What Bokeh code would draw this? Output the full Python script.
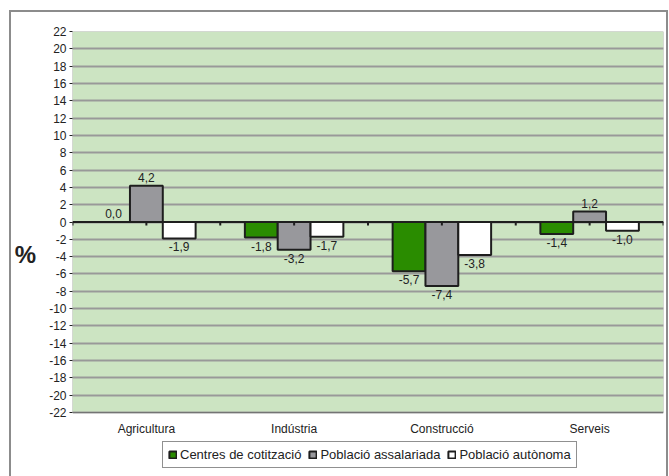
from bokeh.plotting import figure
from bokeh.models import (ColumnDataSource, Range1d, FixedTicker, Legend, LegendItem,
                          BoxAnnotation)
from bokeh.embed import file_html
from bokeh.resources import INLINE
from bokeh.core.properties import value

categories = ["Agricultura", "Indústria", "Construcció", "Serveis"]
series_names = ["Centres de cotització", "Població assalariada", "Població autònoma"]
centres = [0.0, -1.8, -5.7, -1.4]
assalariada = [4.2, -3.2, -7.4, 1.2]
autonoma = [-1.9, -1.7, -3.8, -1.0]
y_ticks = list(range(-22, 23, 2))

series_values = [centres, assalariada, autonoma]
colors = ["#2a8c00", "#98989c", "#ffffff"]
FONT = "Liberation Sans"

n = len(categories)
bar_w = 1 / 4.5
y_min, y_max = y_ticks[0], y_ticks[-1]

# plot area: 381 px tall for the value range, plus 64 px of white space below it
W, H = 669, 476
top_b, left_b, right_b = 31, 72, 6
area_px = 381
extra_units = (H - top_b - area_px) * (y_max - y_min) / area_px

p = figure(width=W, height=H, output_backend="svg", toolbar_location=None,
           x_range=Range1d(0, n), y_range=Range1d(y_min - extra_units, y_max),
           x_axis_location=None,
           min_border_left=left_b, min_border_right=right_b, min_border_top=top_b,
           min_border_bottom=0,
           background_fill_color="#ffffff", border_fill_color=None)
p.outline_line_color = None

g = "linear-gradient(#8c8c8c,#8c8c8c)"
p.styles = {
    "background": (f"{g} 9px 10px / 2px 100% no-repeat, "
                   f"{g} 9px 10px / 659px 2px no-repeat, "
                   f"{g} 666px 10px / 2px 100% no-repeat, #ffffff"),
}

# green plot area
p.add_layout(BoxAnnotation(left=0, right=n, bottom=y_min, top=y_max,
                           fill_color="#cce4c2", fill_alpha=1, line_color=None,
                           level="image"))

# grid
p.xgrid.grid_line_color = None
p.ygrid.ticker = FixedTicker(ticks=y_ticks)
p.ygrid.grid_line_color = "#999999"
p.ygrid.grid_line_width = 2

# y axis
p.yaxis.ticker = FixedTicker(ticks=y_ticks)
p.yaxis.major_label_overrides = {t: str(t) for t in y_ticks}
p.yaxis.axis_line_color = None
p.yaxis.major_tick_line_color = "#222222"
p.yaxis.major_tick_out = 3
p.yaxis.major_tick_in = 0
p.yaxis.minor_tick_line_color = None
p.yaxis.minor_tick_out = 0
p.yaxis.major_label_standoff = 3
p.yaxis.major_label_text_font = FONT
p.yaxis.major_label_text_font_size = "12px"
p.yaxis.major_label_text_color = "#222222"
p.yaxis.axis_label = "%"
p.yaxis.axis_label_text_font = FONT
p.yaxis.axis_label_text_font_size = "24px"
p.yaxis.axis_label_text_font_style = "bold"
p.yaxis.axis_label_text_color = "#222222"
p.yaxis.axis_label_standoff = 10
if "axis_label_orientation" in p.yaxis[0].properties():
    p.yaxis.axis_label_orientation = "horizontal"

# bars
centers = [i + 0.5 for i in range(n)]
offsets = [-1, 0, 1]
legend_items = []
for vals, col, off, name in zip(series_values, colors, offsets, series_names):
    xs = [c + off * bar_w for c in centers]
    src = ColumnDataSource(dict(
        x=xs, top=vals,
        label=[f"{v:.1f}".replace(".", ",") for v in vals],
        yoff=[-4 if v >= 0 else 4 for v in vals],
        base=["bottom" if v >= 0 else "top" for v in vals],
    ))
    r = p.vbar(x="x", top="top", bottom=0, width=bar_w, source=src,
               fill_color=col, line_color="#1e1e1e", line_width=2)
    p.text(x="x", y="top", text="label", source=src, y_offset="yoff",
           text_baseline="base", text_align="center",
           text_font=value(FONT), text_font_size="12px", text_color="#222222")
    legend_items.append(LegendItem(label=name, renderers=[r]))

# zero axis line with tick marks
p.segment(x0=[0], y0=[0], x1=[n], y1=[0], line_color="#1e1e1e", line_width=2)
tick_x = [i * 0.5 for i in range(2 * n + 1)]
p.segment(x0=tick_x, y0=[0] * len(tick_x), x1=tick_x, y1=[-0.4] * len(tick_x),
          line_color="#1e1e1e", line_width=2)

# plot area border
p.add_layout(BoxAnnotation(left=0, right=n, bottom=y_min, top=y_max,
                           fill_color=None, line_color="#222222", line_width=1,
                           level="overlay"))

# category labels under the plot area
p.text(x=centers, y=[y_min] * n, text=categories, y_offset=9,
       text_baseline="top", text_align="center",
       text_font=value(FONT), text_font_size="12px", text_color="#222222")

legend = Legend(items=legend_items, orientation="horizontal", location=(90, 8))
legend.glyph_width = 9
legend.glyph_height = 9
legend.label_standoff = 3
legend.spacing = 7
legend.padding = 5
legend.margin = 0
legend.label_text_font = FONT
legend.label_text_font_size = "13px"
legend.label_text_color = "#222222"
legend.label_height = 13
legend.border_line_color = "#222222"
legend.border_line_width = 1
legend.background_fill_color = "#ffffff"
p.add_layout(legend, "center")

open("out.html", "w").write(file_html(p, INLINE))
